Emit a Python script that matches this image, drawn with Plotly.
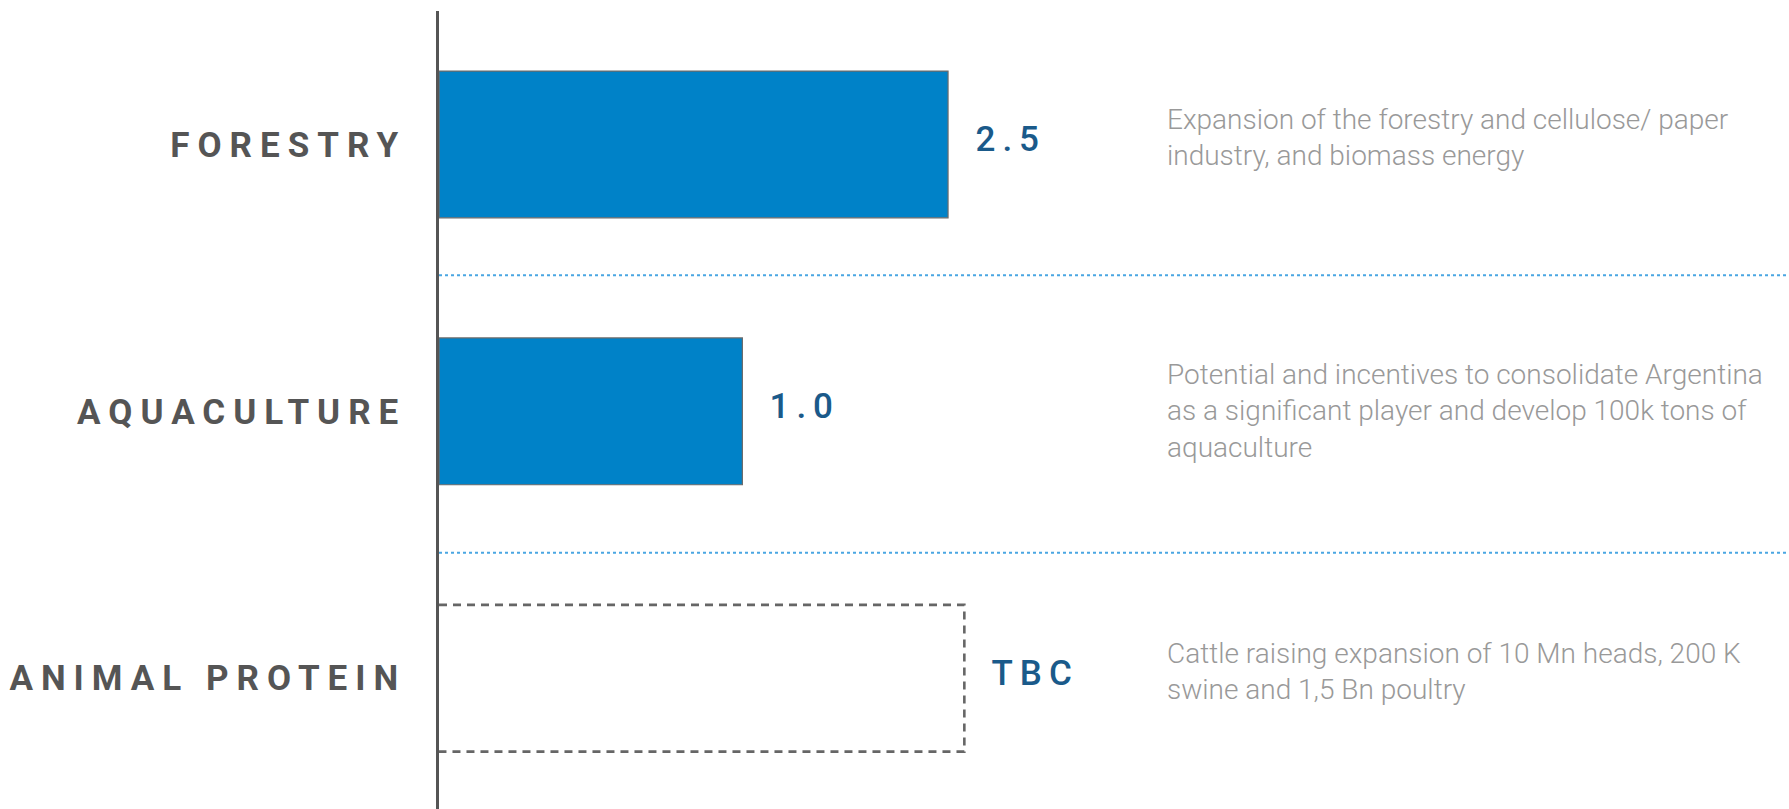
import plotly.graph_objects as go

# ---- data ----
categories = ["FORESTRY", "AQUACULTURE", "ANIMAL PROTEIN"]
value_labels = ["2.5", "1.0", "TBC"]
# drawn bar lengths (the infographic is not drawn to scale)
bar_lengths = [2.5, 1.49, 2.58]
bar_is_tbc = [False, False, True]
descriptions = [
    "Expansion of the forestry and cellulose/ paper<br>industry, and biomass energy",
    "Potential and incentives to consolidate Argentina<br>as a significant player and develop 100k tons of<br>aquaculture",
    "Cattle raising expansion of 10 Mn heads, 200 K<br>swine and 1,5 Bn poultry",
]

# ---- style ----
BAR_W = 0.55
desc_yshift = [7, 0, 7]
ypos = list(range(len(categories)))

fig = go.Figure()

# solid bars
solid_y = [y for y, t in zip(ypos, bar_is_tbc) if not t]
solid_x = [x for x, t in zip(bar_lengths, bar_is_tbc) if not t]
fig.add_trace(go.Bar(
    x=solid_x, y=solid_y, orientation="h", width=BAR_W,
    marker=dict(color="#0082c8", line=dict(color="#6b6b6b", width=1.2)),
    hoverinfo="skip", showlegend=False,
))

# dashed "TBC" outline boxes
for y, x, t in zip(ypos, bar_lengths, bar_is_tbc):
    if t:
        fig.add_trace(go.Scatter(
            x=[0, x, x, 0], y=[y - BAR_W / 2, y - BAR_W / 2, y + BAR_W / 2, y + BAR_W / 2],
            mode="lines", line=dict(color="#666666", width=2.6, dash="8px,6px"),
            hoverinfo="skip", showlegend=False,
        ))

# value labels
for y, x, lab in zip(ypos, bar_lengths, value_labels):
    fig.add_annotation(
        x=x, y=y, text=lab, xanchor="left", yanchor="middle", showarrow=False,
        xshift=36, yshift=5,
        font=dict(family="Roboto, Arial", size=35, color="#1a5a8a", weight=500),
    )

# descriptions
for y, d, ys in zip(ypos, descriptions, desc_yshift):
    fig.add_annotation(
        x=0.538, xref="paper", y=y, text=d, xanchor="left", yanchor="middle",
        align="left", showarrow=False, yshift=ys,
        font=dict(family="Roboto, Arial", size=28, color="#999999", weight=300),
    )

# dotted separators
for yy in (0.49, 1.53):
    fig.add_shape(type="line", xref="paper", x0=0, x1=1, y0=yy, y1=yy,
                  line=dict(color="#4aa6e2", width=2, dash="dot"))

fig.update_layout(
    width=1789, height=809,
    margin=dict(l=439, r=0, t=11, b=0),
    paper_bgcolor="white", plot_bgcolor="white",
    xaxis=dict(range=[0, 6.63], visible=False),
    yaxis=dict(
        range=[2.49, -0.5], tickvals=ypos, ticktext=categories,
        showline=True, linecolor="#555555", linewidth=2.5, showgrid=False,
        zeroline=False, ticks="", ticklabelstandoff=23,
        tickfont=dict(family="Roboto, Arial", size=35, color="#555555", weight=700),
    ),
)

css = (
    "var s=document.createElement('style');"
    "s.textContent='body{margin:0 !important;overflow:hidden;}"
    " .ytick text{letter-spacing:8px !important;}"
    " .annotation[data-index=\"0\"] text, .annotation[data-index=\"1\"] text,"
    " .annotation[data-index=\"2\"] text{letter-spacing:7px !important;}';"
    "document.head.appendChild(s);"
)
fig.write_html("out.html", post_script=css, config={"displayModeBar": False})
